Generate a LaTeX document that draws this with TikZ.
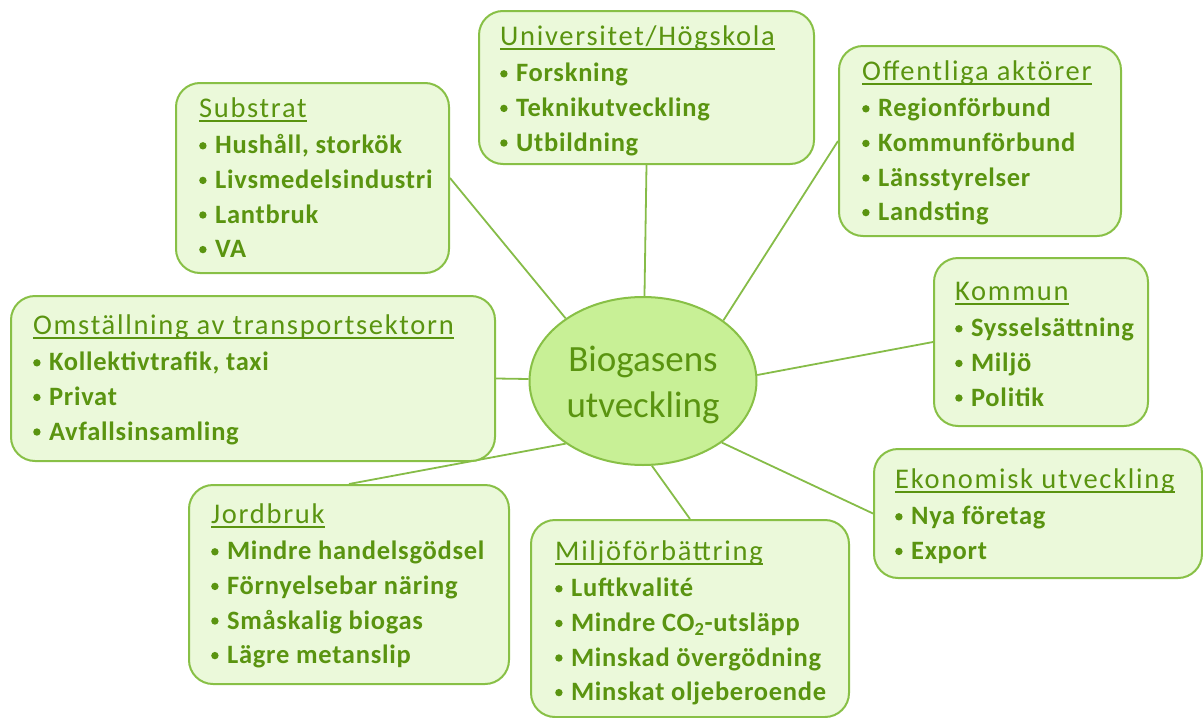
\documentclass[tikz,border=0pt]{standalone}
\usepackage{fontspec}
\setmainfont{Carlito}
\newfontfamily\hdfont[LetterSpace=6]{Carlito}
\newfontfamily\itfont[LetterSpace=2.8]{Carlito}
\usetikzlibrary{shapes.geometric,backgrounds,calc}
\definecolor{txtg}{HTML}{5A9410}
\definecolor{brd}{HTML}{88C046}
\definecolor{boxf}{HTML}{EBF9DA}
\definecolor{ellf}{HTML}{C8F096}
\definecolor{lineg}{HTML}{86BC48}
\newsavebox\hdbox
\newcommand{\hd}[1]{\rule{0pt}{24pt}{\hdfont\fontsize{28.5}{28.5}\selectfont\sbox\hdbox{#1}\rlap{\rule[-4.5pt]{\wd\hdbox}{1.5pt}}\usebox\hdbox}}
\newcommand{\bul}{\tikz[baseline={(0,-8pt)}]\fill[txtg] (0,0) circle (3.7pt);}
\newcommand{\itm}[1]{\bul\hspace{8.5pt}{\itfont\bfseries #1}}
\tikzset{
  box/.style={rectangle, draw=brd, line width=2pt, fill=boxf, rounded corners=24pt,
    anchor=north west, inner sep=0pt},
  txt/.style={anchor=north west, inner sep=0pt, align=left, text=txtg,
    font=\fontsize{26.5}{34.6}\selectfont},
  conn/.style={draw=lineg, line width=1.8pt},
  hub/.style={ellipse, draw=brd, fill=ellf, line width=2pt, minimum width=227pt,
    minimum height=168pt, inner sep=0pt},
  hubtxt/.style={align=center, text=txtg, inner sep=0pt,
    font=\fontsize{37}{46}\selectfont}
}
\begin{document}
\begin{tikzpicture}[x=1pt,y=1pt]
\useasboundingbox (0,0) rectangle (1203,-718);
% hub
\node[hub] (bio) at (643,-381) {};
\node[hubtxt] (biot) at (643,-385) {Biogasens\\utveckling};
% boxes
\node[box, minimum width=335pt, minimum height=153pt] (uni) at (478,-10) {};
\node[box, minimum width=273pt, minimum height=190pt] (sub) at (175,-82) {};
\node[box, minimum width=282pt, minimum height=190pt] (off) at (838,-45) {};
\node[box, minimum width=484pt, minimum height=165pt] (oms) at (10,-295) {};
\node[box, minimum width=214pt, minimum height=168pt] (kom) at (933,-257) {};
\node[box, minimum width=328pt, minimum height=129pt] (eko) at (873,-448) {};
\node[box, minimum width=320pt, minimum height=199pt] (jord) at (188,-484) {};
\node[box, minimum width=318pt, minimum height=197pt] (milj) at (530,-519) {};
% texts (heading baseline = y - 24)
\node[txt] (unit) at (500,-21)
  {\hd{Universitet/Högskola}\\[2pt]\itm{Forskning}\\\itm{Teknikutveckling}\\\itm{Utbildning}};
\node[txt] (subt) at (199,-93)
  {\hd{Substrat}\\[2pt]\itm{Hushåll, storkök}\\\itm{Livsmedelsindustri}\\\itm{Lantbruk}\\\itm{VA}};
\node[txt] (offt) at (862,-56)
  {\hd{Offentliga aktörer}\\[2pt]\itm{Regionförbund}\\\itm{Kommunförbund}\\\itm{Länsstyrelser}\\\itm{Landsting}};
\node[txt] (omst) at (33,-310)
  {\hd{Omställning av transportsektorn}\\[2pt]\itm{Kollektivtrafik, taxi}\\\itm{Privat}\\\itm{Avfallsinsamling}};
\node[txt] (komt) at (955,-276)
  {\hd{Kommun}\\[2pt]\itm{Sysselsättning}\\\itm{Miljö}\\\itm{Politik}};
\node[txt] (ekot) at (895,-464)
  {\hd{Ekonomisk utveckling}\\[2pt]\itm{Nya företag}\\\itm{Export}};
\node[txt] (jordt) at (211,-499)
  {\hd{Jordbruk}\\[2pt]\itm{Mindre handelsgödsel}\\\itm{Förnyelsebar näring}\\\itm{Småskalig biogas}\\\itm{Lägre metanslip}};
\node[txt] (miljt) at (555,-536)
  {\hd{Miljöförbättring}\\[2pt]\itm{Luftkvalité}\\\itm{Mindre CO\textsubscript{2}-utsläpp}\\\itm{Minskad övergödning}\\\itm{Minskat oljeberoende}};
% connectors
\begin{scope}[on background layer]
\draw[conn] (uni.south) -- (bio.89);
\draw[conn] (sub.east) -- (bio.141);
\draw[conn] (off.west) -- (bio.37);
\draw[conn] (oms.east) -- (bio.179);
\draw[conn] (kom.west) -- (bio.3);
\draw[conn] (eko.west) -- (bio.-38);
\draw[conn] (jord.north) -- (bio.-141);
\draw[conn] (milj.north) -- (bio.-84);
\end{scope}
\end{tikzpicture}
\end{document}
